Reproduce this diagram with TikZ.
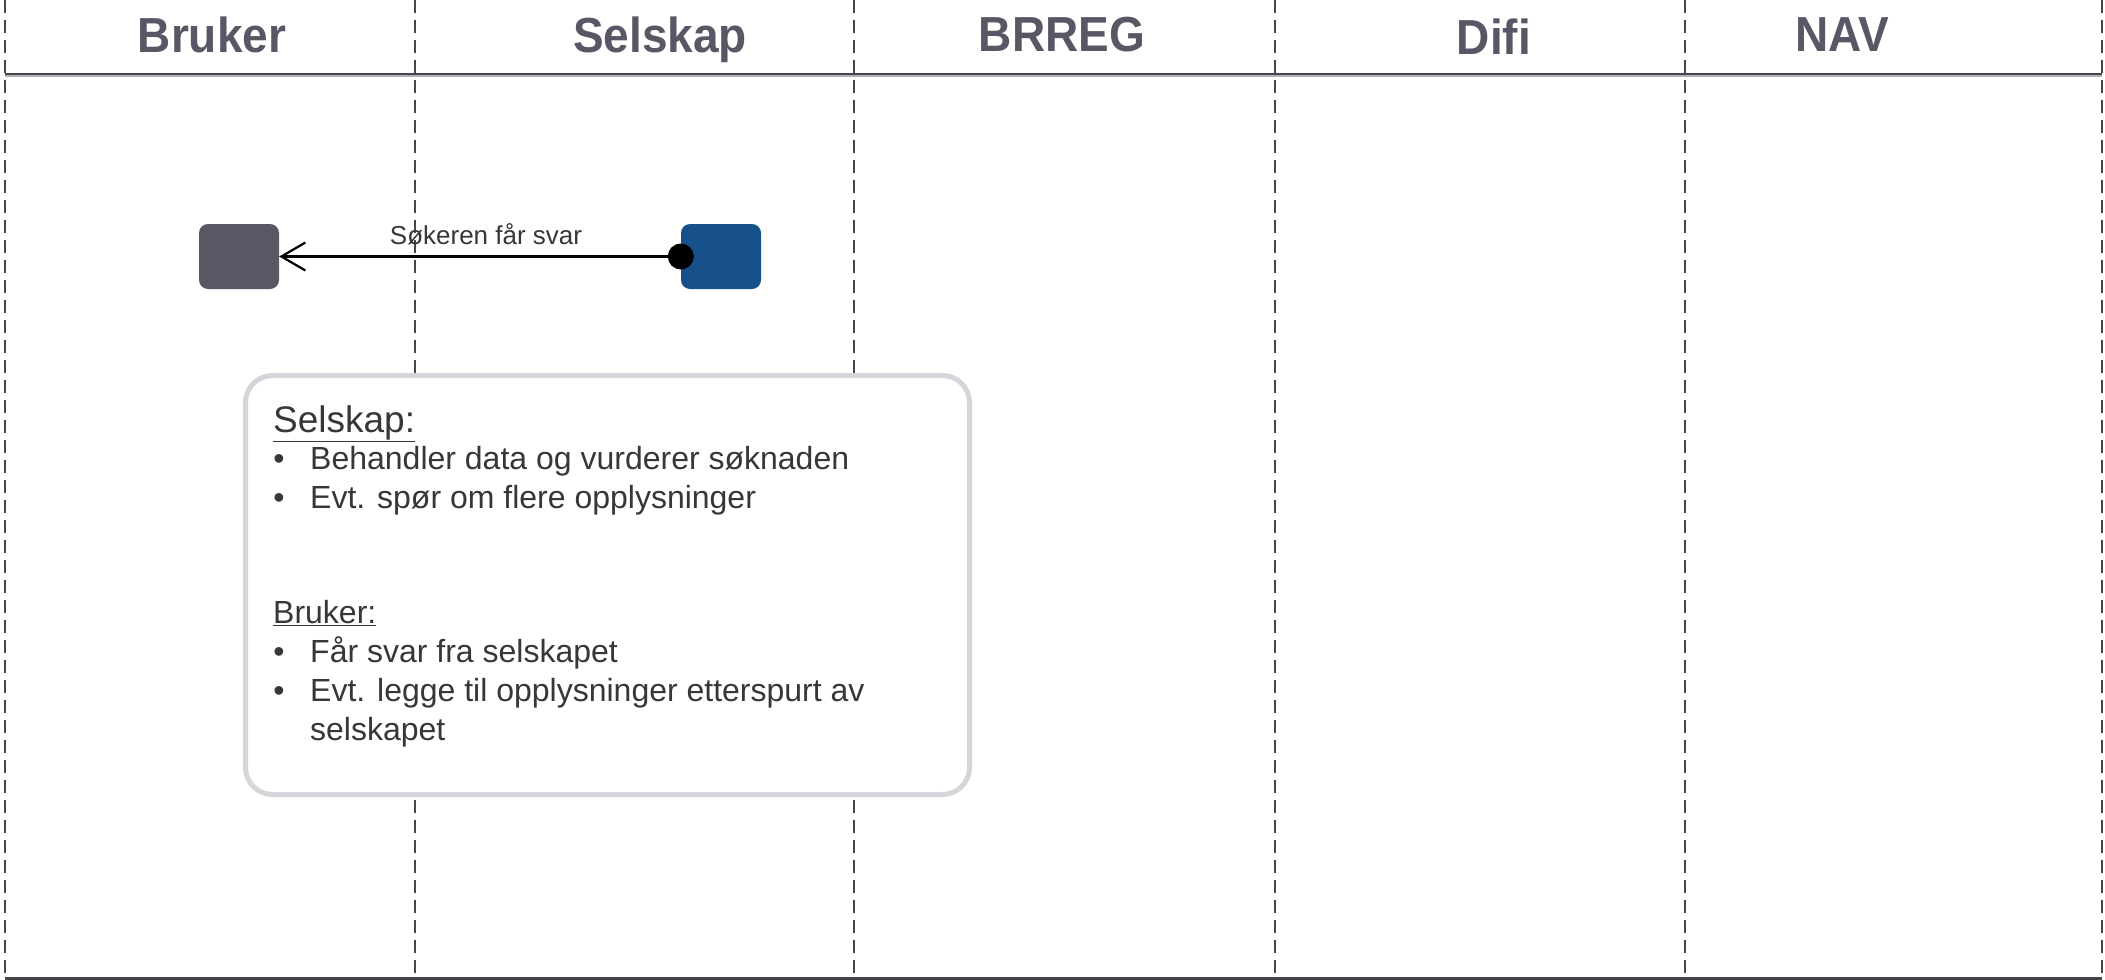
\documentclass[tikz,border=0pt]{standalone}
\usepackage{fontspec}
\setmainfont{Liberation Sans}
\usetikzlibrary{arrows.meta}
\definecolor{hdrcol}{RGB}{89,87,102}
\definecolor{txtcol}{RGB}{55,55,58}
\definecolor{lanecol}{RGB}{70,70,74}
\definecolor{bluebox}{RGB}{23,81,140}
\definecolor{notebd}{RGB}{214,213,219}
\tikzset{
  lane/.style={draw=lanecol, line width=1.4pt, dash pattern=on 13pt off 7pt},
  hdr/.style={font=\fontsize{46}{50}\selectfont\bfseries, text=hdrcol, inner sep=0pt, anchor=base, yscale=1.07},
  actbox/.style={rounded corners=9pt, minimum width=80pt, minimum height=65pt, inner sep=0pt},
  body/.style={font=\fontsize{32}{38}\selectfont, text=txtcol, inner sep=0pt, anchor=base west},
  bul/.style={font=\fontsize{32}{38}\selectfont, text=txtcol, inner sep=0pt, anchor=base},
}
\begin{document}
\begin{tikzpicture}[x=1pt,y=-1pt]
\useasboundingbox (0,0) rectangle (2105,980);
\fill[white] (0,0) rectangle (2105,980);
% lanes
\foreach \x in {5,415,854,1275,1685,2102}{
  \draw[lane] (\x,0) -- (\x,980);
}
% header line
\draw[draw=hdrcol!80!black, line width=2pt] (5,73.5) -- (2102,73.5);
\draw[draw=gray!60, line width=1.5pt] (5,76) -- (2102,76);
% bottom line
\draw[draw=lanecol, line width=2.5pt] (5,978.5) -- (2102,978.5);
% headers
\node[hdr] (hBruker) at (212,52) {Bruker};
\node[hdr] (hSelskap) at (660,52) {Selskap};
\node[hdr] (hBrreg) at (1062,51) {BRREG};
\node[hdr] (hDifi) at (1494,54) {Difi};
\node[hdr] (hNav) at (1842,51) {NAV};
% activity boxes
\node[actbox, fill=hdrcol] (bruker) at (239,256.5) {};
\node[actbox, fill=bluebox] (selskap) at (721,256.5) {};
\node[circle, fill=black, minimum size=26pt, inner sep=0pt] (dot) at (selskap.west) {};
\draw[line width=2.2pt, -{Straight Barb[length=24pt,width=28pt,line width=2.2pt]}] (dot.center) -- (bruker.east);
\node[font=\fontsize{26}{30}\selectfont, text=txtcol, inner sep=0pt, anchor=base] (lbl) at (486,244) {Søkeren får svar};
% note
\node[draw=notebd, line width=5pt, fill=white, rounded corners=27pt, minimum width=724pt, minimum height=419pt, inner sep=0pt] (note) at (607.5,585) {};
\node[body, font=\fontsize{37}{42}\selectfont] (t1) at (273,432) {\underline{Selskap:}};
\node[bul] (b1) at (279,469) {•};
\node[body] (t2) at (310,469) {Behandler data og vurderer søknaden};
\node[bul] (b2) at (279,508) {•};
\node[body] (t3) at (310,508) {Evt. spør om flere opplysninger};
\node[body] (t4) at (273,623) {\underline{Bruker:}};
\node[bul] (b3) at (279,662) {•};
\node[body] (t5) at (310,662) {Får svar fra selskapet};
\node[bul] (b4) at (279,701) {•};
\node[body] (t6) at (310,701) {Evt. legge til opplysninger etterspurt av};
\node[body] (t7) at (310,740) {selskapet};
\end{tikzpicture}
\end{document}
